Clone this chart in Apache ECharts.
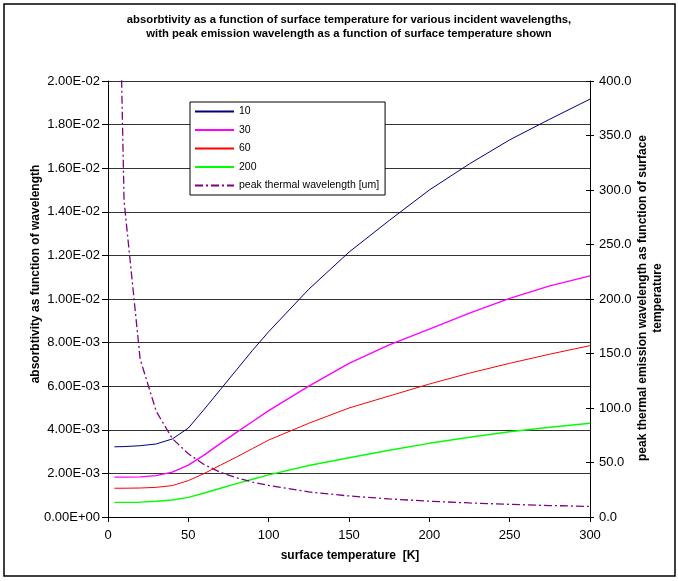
<!DOCTYPE html>
<html>
<head>
<meta charset="utf-8">
<script src="https://cdn.jsdelivr.net/npm/echarts@6/dist/echarts.min.js"></script>
<style>
  html, body { margin: 0; padding: 0; background: #fff; }
  #main { width: 678px; height: 581px; }
</style>
</head>
<body>
<div id="main"></div>
<script>
// surface temperature [K]
const temps = [4, 10, 20, 30, 40, 50, 60, 70, 80, 90, 100, 125, 150, 175, 200, 225, 250, 275, 300];
// absorptivity for each incident wavelength
const abs10 = [3.22e-3, 3.23e-3, 3.27e-3, 3.35e-3, 3.58e-3, 4.08e-3, 4.95e-3, 5.85e-3, 6.75e-3, 7.65e-3, 8.5e-3, 10.45e-3, 12.15e-3, 13.6e-3, 15.0e-3, 16.2e-3, 17.3e-3, 18.25e-3, 19.17e-3];
const abs30 = [1.83e-3, 1.83e-3, 1.84e-3, 1.9e-3, 2.06e-3, 2.38e-3, 2.85e-3, 3.38e-3, 3.88e-3, 4.38e-3, 4.88e-3, 6.0e-3, 7.05e-3, 7.9e-3, 8.62e-3, 9.35e-3, 10.03e-3, 10.6e-3, 11.06e-3];
const abs60 = [1.32e-3, 1.32e-3, 1.33e-3, 1.36e-3, 1.44e-3, 1.67e-3, 2.0e-3, 2.38e-3, 2.75e-3, 3.14e-3, 3.53e-3, 4.3e-3, 5.0e-3, 5.55e-3, 6.1e-3, 6.6e-3, 7.05e-3, 7.47e-3, 7.86e-3];
const abs200 = [0.67e-3, 0.67e-3, 0.68e-3, 0.72e-3, 0.78e-3, 0.9e-3, 1.1e-3, 1.32e-3, 1.53e-3, 1.73e-3, 1.93e-3, 2.36e-3, 2.72e-3, 3.06e-3, 3.38e-3, 3.66e-3, 3.91e-3, 4.12e-3, 4.3e-3];
// peak thermal wavelength [um] (right axis)
const peakWl = [724, 290, 145, 97, 72, 58, 48, 41, 36, 32, 29, 23, 19.3, 16.6, 14.5, 12.9, 11.6, 10.5, 9.7];

const seriesNames = ['10', '30', '60', '200', 'peak thermal wavelength [um]'];

const font = 'Liberation Sans, Arial, sans-serif';

const pairs = (ys) => temps.map((t, i) => [t, ys[i]]);

// 2.00E-02 style labels
const sci = (v) => {
  if (Math.abs(v) < 1e-12) return '0.00E+00';
  const e = Math.floor(Math.log10(Math.abs(v)) + 1e-9);
  const m = v / Math.pow(10, e);
  return m.toFixed(2) + 'E' + (e < 0 ? '-' : '+') + String(Math.abs(e)).padStart(2, '0');
};

const chart = echarts.init(document.getElementById('main'));

const option = {
  animation: false,
  backgroundColor: '#fff',
  textStyle: { fontFamily: font, color: '#000' },
  legend: {
    data: seriesNames,
    orient: 'vertical',
    left: 190,
    top: 102,
    itemWidth: 39,
    itemHeight: 10,
    itemGap: 7.5,
    padding: [4, 6, 4, 4],
    backgroundColor: '#fff',
    borderColor: '#000',
    borderWidth: 1,
    itemStyle: { opacity: 0 },
    textStyle: { fontFamily: font, fontSize: 10.5, color: '#000' }
  },
  grid: { left: 108, right: 88, top: 81, bottom: 64 },
  xAxis: {
    type: 'value',
    min: 0,
    max: 300,
    interval: 50,
    axisLine: { lineStyle: { color: '#000' } },
    axisTick: { length: 5, lineStyle: { color: '#000' } },
    axisLabel: { fontSize: 13, color: '#000', margin: 12 },
    splitLine: { show: false }
  },
  yAxis: [
    {
      type: 'value',
      position: 'left',
      min: 0,
      max: 0.02,
      interval: 0.002,
      axisLine: { show: true, lineStyle: { color: '#000' } },
      axisTick: { show: true, length: 6, lineStyle: { color: '#000' } },
      axisLabel: { fontSize: 13, color: '#000', margin: 8, formatter: sci },
      splitLine: { show: true, lineStyle: { color: '#333', width: 1 } }
    },
    {
      type: 'value',
      position: 'right',
      min: 0,
      max: 400,
      interval: 50,
      axisLine: { show: true, lineStyle: { color: '#000' } },
      axisTick: { show: true, length: 4, lineStyle: { color: '#000' } },
      axisLabel: { fontSize: 13, color: '#000', margin: 9, formatter: (v) => v.toFixed(1) },
      splitLine: { show: false }
    },
    {
      // inner half of the crossing ticks on the right axis
      type: 'value',
      position: 'right',
      min: 0,
      max: 400,
      interval: 50,
      axisLine: { show: false },
      axisTick: { show: true, inside: true, length: 4, lineStyle: { color: '#000' } },
      axisLabel: { show: false },
      splitLine: { show: false }
    }
  ],
  graphic: [
    {
      type: 'rect',
      shape: { x: 4, y: 4, width: 671, height: 572 },
      style: { fill: 'none', stroke: '#000', lineWidth: 1.5 },
      silent: true
    },
    {
      type: 'text',
      x: 349,
      y: 27,
      style: {
        text: 'absorbtivity as a function of surface temperature for various incident wavelengths,\nwith peak emission wavelength as a function of surface temperature shown',
        font: 'bold 11.3px ' + font,
        fill: '#000',
        align: 'center',
        verticalAlign: 'middle',
        lineHeight: 14
      }
    },
    {
      type: 'text',
      x: 36,
      y: 274,
      rotation: Math.PI / 2,
      style: {
        text: 'absorbtivity as function of wavelength',
        font: 'bold 12px ' + font,
        fill: '#000',
        align: 'center',
        verticalAlign: 'middle'
      }
    },
    {
      type: 'text',
      x: 650,
      y: 298,
      rotation: Math.PI / 2,
      style: {
        text: 'peak thermal emission wavelength as function of surface\ntemperature',
        font: 'bold 12px ' + font,
        fill: '#000',
        align: 'center',
        verticalAlign: 'middle',
        lineHeight: 15
      }
    },
    {
      type: 'text',
      x: 350,
      y: 556,
      style: {
        text: 'surface temperature  [K]',
        font: 'bold 12px ' + font,
        fill: '#000',
        align: 'center',
        verticalAlign: 'middle'
      }
    }
  ],
  series: [
    {
      name: '10', type: 'line', yAxisIndex: 0, data: pairs(abs10),
      symbol: 'none', lineStyle: { color: '#000080', width: 1 }, itemStyle: { color: '#000080' }
    },
    {
      name: '30', type: 'line', yAxisIndex: 0, data: pairs(abs30),
      symbol: 'none', lineStyle: { color: '#ff00ff', width: 1.4 }, itemStyle: { color: '#ff00ff' }
    },
    {
      name: '60', type: 'line', yAxisIndex: 0, data: pairs(abs60),
      symbol: 'none', lineStyle: { color: '#ff0000', width: 1 }, itemStyle: { color: '#ff0000' }
    },
    {
      name: '200', type: 'line', yAxisIndex: 0, data: pairs(abs200),
      symbol: 'none', lineStyle: { color: '#00ff00', width: 1.4 }, itemStyle: { color: '#00ff00' }
    },
    {
      name: 'peak thermal wavelength [um]', type: 'line', yAxisIndex: 1, data: pairs(peakWl),
      symbol: 'none', clip: true,
      lineStyle: { color: '#800080', width: 1.3, type: [8, 3, 2, 3] },
      itemStyle: { color: '#800080' }
    }
  ]
};

chart.setOption(option);
</script>
</body>
</html>
